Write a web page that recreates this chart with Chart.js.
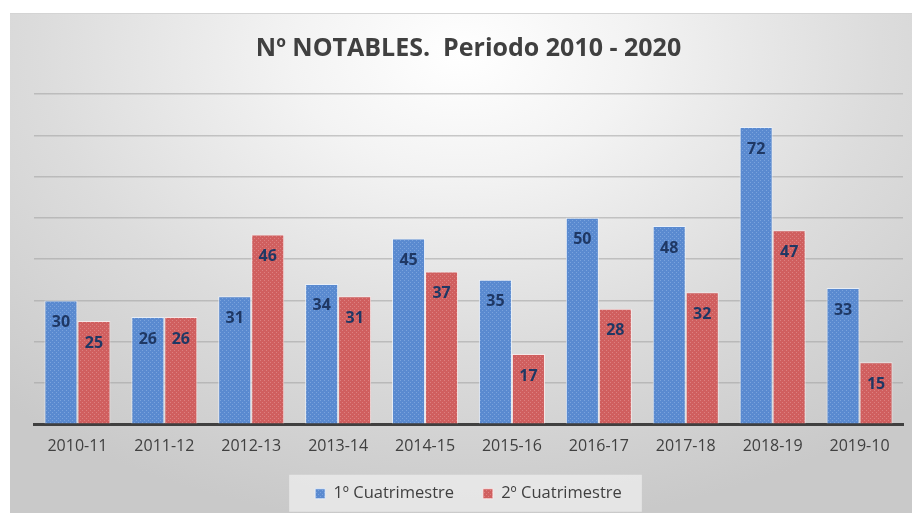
<!DOCTYPE html>
<html>
<head>
<meta charset="utf-8">
<script src="https://cdn.jsdelivr.net/npm/chart.js@4/dist/chart.umd.min.js"></script>
<style>
    html, body { margin: 0; padding: 0; background: #ffffff; }
    #frame {
        position: absolute;
        left: 10px;
        top: 13px;
        width: 902px;
        height: 500px;
        border-top: 1px solid #d4d4d4;
        box-sizing: border-box;
        background: radial-gradient(ellipse 75% 95% at 50% 8%, #ffffff 0%, #f3f3f3 25%, #dcdcdc 62%, #c9c9c9 100%);
    }
    #chart { display: block; }
</style>
</head>
<body>
<div id="frame"><canvas id="chart" width="902" height="499"></canvas></div>
<script>
const categories = ["2010-11", "2011-12", "2012-13", "2013-14", "2014-15", "2015-16", "2016-17", "2017-18", "2018-19", "2019-10"];
const primerCuatrimestre = [30, 26, 31, 34, 45, 35, 50, 48, 72, 33];
const segundoCuatrimestre = [25, 26, 46, 31, 37, 17, 28, 32, 47, 15];
const seriesNames = ["1º Cuatrimestre", "2º Cuatrimestre"];

const textColor = "#404040";
const labelColor = "#1f3864";

function dotPattern(base, dot) {
    const c = document.createElement("canvas");
    c.width = 4;
    c.height = 4;
    const g = c.getContext("2d");
    g.fillStyle = base;
    g.fillRect(0, 0, 4, 4);
    g.fillStyle = dot;
    g.fillRect(0, 0, 1, 1);
    g.fillRect(2, 2, 1, 1);
    return g.createPattern(c, "repeat");
}

const bluePattern = dotPattern("#5a8ad0", "#7aa3dd");
const redPattern = dotPattern("#d05f5f", "#dd8080");

// draws the soft box behind the legend
const legendBox = {
    id: "legendBox",
    beforeDraw(chart) {
        const lg = chart.legend;
        if (!lg || !lg.legendHitBoxes.length) return;
        const boxes = lg.legendHitBoxes;
        const left = Math.min(...boxes.map((b) => b.left)) - 26;
        const right = Math.max(...boxes.map((b) => b.left + b.width)) + 20;
        const mid = boxes[0].top + boxes[0].height / 2;
        const ctx = chart.ctx;
        ctx.save();
        ctx.fillStyle = "rgba(238,238,238,0.75)";
        ctx.fillRect(left, mid - 19, right - left, 37);
        ctx.restore();
    },
};

// value labels just inside the top of each bar
const barValues = {
    id: "barValues",
    afterDatasetsDraw(chart) {
        const ctx = chart.ctx;
        ctx.save();
        ctx.font = "bold 16px 'Open Sans'";
        ctx.fillStyle = labelColor;
        ctx.textAlign = "center";
        ctx.textBaseline = "middle";
        chart.data.datasets.forEach((ds, i) => {
            chart.getDatasetMeta(i).data.forEach((bar, j) => {
                ctx.fillText(String(ds.data[j]), bar.x, bar.y + 22);
            });
        });
        ctx.restore();
    },
};

new Chart(document.getElementById("chart"), {
    type: "bar",
    data: {
        labels: categories,
        datasets: [
            {
                label: seriesNames[0],
                data: primerCuatrimestre,
                backgroundColor: bluePattern,
                borderColor: "rgba(235,242,252,0.8)",
                borderWidth: 1,
            },
            {
                label: seriesNames[1],
                data: segundoCuatrimestre,
                backgroundColor: redPattern,
                borderColor: "rgba(252,235,235,0.8)",
                borderWidth: 1,
            },
        ],
    },
    options: {
        responsive: false,
        animation: false,
        categoryPercentage: 0.76,
        barPercentage: 1.0,
        layout: { padding: { left: 24, right: 9, top: 0, bottom: 1 } },
        plugins: {
            title: {
                display: true,
                text: "Nº NOTABLES.  Periodo 2010 - 2020",
                color: textColor,
                font: { family: "'Open Sans'", size: 25, weight: "bold" },
                padding: { top: 20, bottom: 30 },
            },
            legend: {
                position: "bottom",
                labels: {
                    color: textColor,
                    font: { family: "'Open Sans'", size: 16.5 },
                    boxWidth: 10,
                    boxHeight: 10,
                    padding: 16,
                    generateLabels(chart) {
                        const items = Chart.defaults.plugins.legend.labels.generateLabels(chart);
                        items[0].text += "   ";
                        return items;
                    },
                },
            },
            tooltip: { enabled: false },
        },
        scales: {
            x: {
                grid: { display: false, drawTicks: false },
                border: { color: "#404040", width: 3 },
                ticks: {
                    color: textColor,
                    font: { family: "'Open Sans'", size: 16 },
                    padding: 13,
                },
            },
            y: {
                min: 0,
                max: 80,
                ticks: { display: false, stepSize: 10 },
                grid: {
                    color: (ctx) => (ctx.tick.value === 0 ? "rgba(0,0,0,0)" : "rgba(160,160,160,0.55)"),
                    lineWidth: 1.5,
                    drawTicks: false,
                },
                border: { display: false },
                afterFit(scale) {
                    scale.width = 0;
                },
            },
        },
    },
    plugins: [legendBox, barValues],
});
</script>
</body>
</html>
